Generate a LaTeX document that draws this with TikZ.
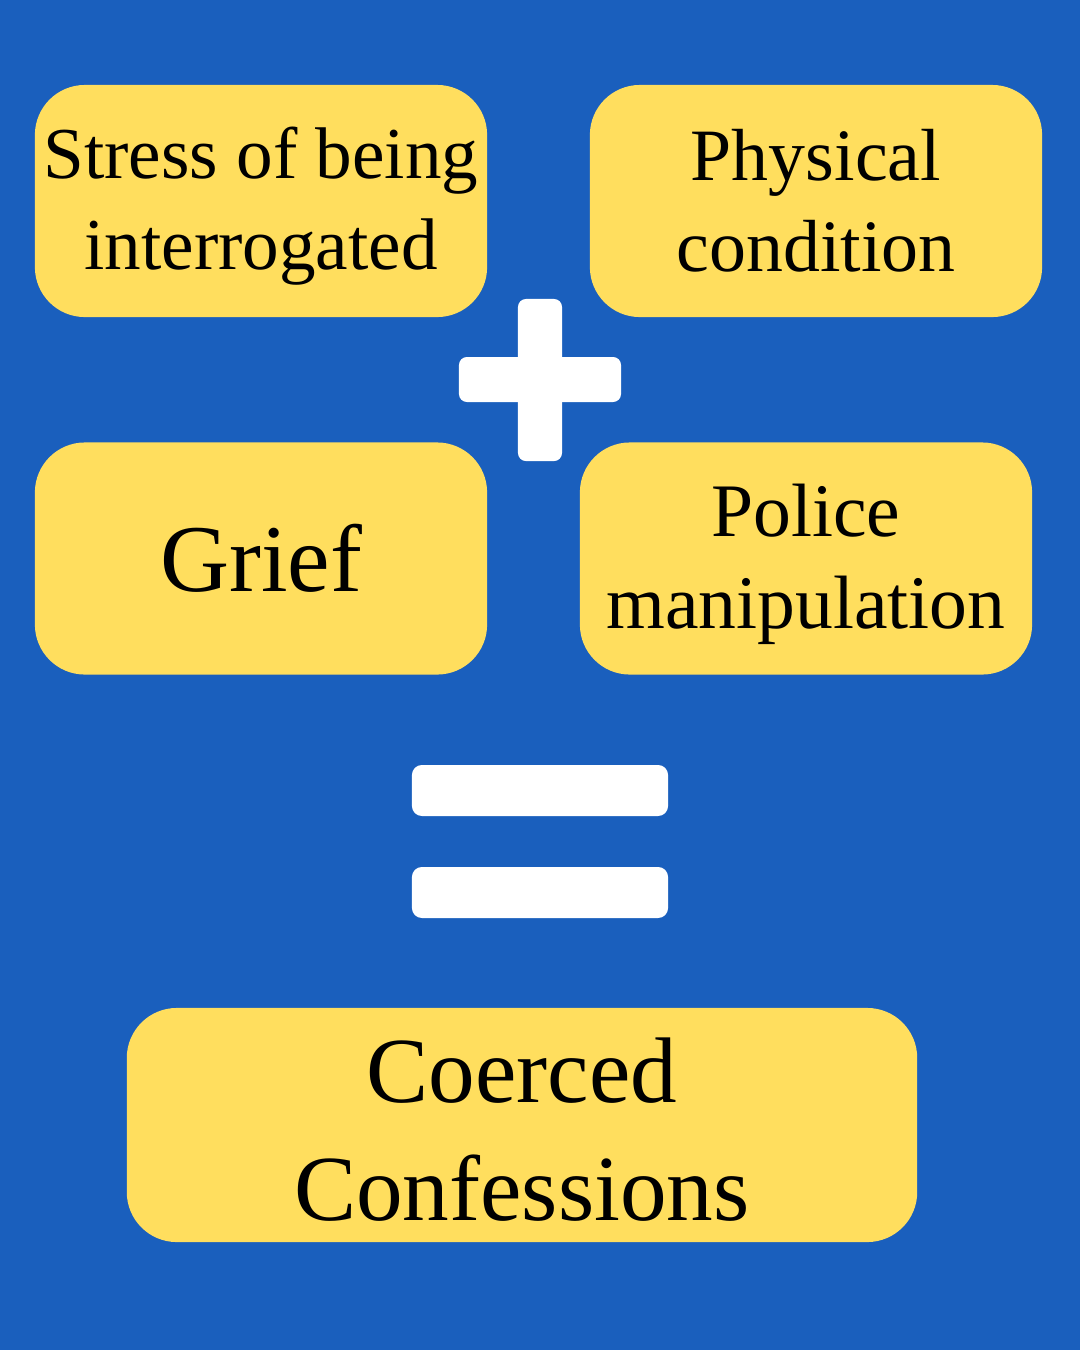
\documentclass[tikz,border=0pt]{standalone}
\usepackage{fontspec}
\setmainfont{Liberation Serif}
\definecolor{bgblue}{HTML}{1A5FBD}
\definecolor{boxyellow}{HTML}{FFDE5E}
\newcommand{\lowerby}[2]{\raisebox{-#1}[\height][\depth]{#2}}
\tikzset{
    factor/.style={fill=boxyellow, rounded corners=0.5cm, minimum width=4.52cm, minimum height=2.32cm, inner sep=0pt, align=center, font=\fontsize{21.5}{26}\selectfont},
    sign/.style={fill=white, rounded corners=0.08cm, inner sep=0pt}
}

\begin{document}
\begin{tikzpicture}[x=0.01cm, y=-0.01cm]
    \fill[bgblue] (0,0) rectangle (1080,1350);
    % Veiksniai
    \node[factor, font=\fontsize{20.8}{26}\selectfont] (stress) at (261,201) {\lowerby{0.05cm}{Stress of being}\\\lowerby{0.05cm}{interrogated}};
    \node[factor, font=\fontsize{21}{26}\selectfont] (physical) at (816,201) {Physical\\condition};
    \node[factor, font=\fontsize{27.2}{32}\selectfont] (grief) at (261,558.5) {Grief};
    \node[factor] (police) at (806,558.5) {\lowerby{0.06cm}{Police}\\\lowerby{0.06cm}{manipulation}};
    % Pliusas
    \node[sign, minimum width=0.44cm, minimum height=1.62cm] (plusv) at (540,380) {};
    \node[sign, minimum width=1.62cm, minimum height=0.45cm] (plush) at (540,379.5) {};
    % Lygybe
    \node[sign, rounded corners=0.1cm, minimum width=2.56cm, minimum height=0.51cm] (eqtop) at (540,790.5) {};
    \node[sign, rounded corners=0.1cm, minimum width=2.56cm, minimum height=0.51cm] (eqbot) at (540,892.5) {};
    % Rezultatas
    \node[factor, minimum width=7.9cm, minimum height=2.34cm, font=\fontsize{26.5}{33.5}\selectfont] (result) at (522,1125) {\lowerby{0.05cm}{Coerced}\\\lowerby{0.05cm}{Confessions}};
\end{tikzpicture}
\end{document}
